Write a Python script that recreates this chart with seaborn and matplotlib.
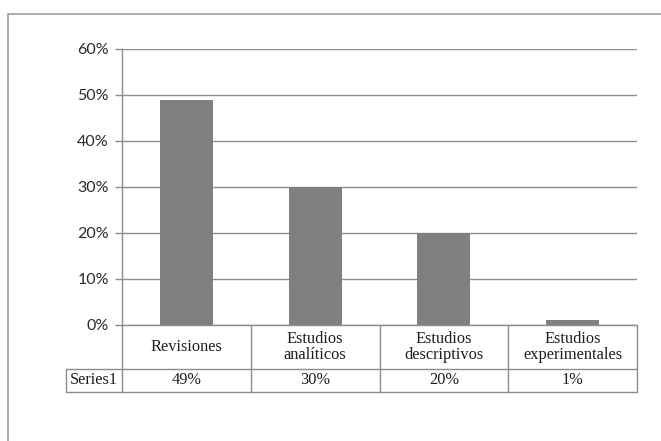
import matplotlib
matplotlib.use("Agg")
import matplotlib.pyplot as plt
import seaborn as sns
import pandas as pd
from matplotlib.lines import Line2D
from matplotlib.ticker import PercentFormatter

categories = ["Revisiones", "Estudios\nanalíticos", "Estudios\ndescriptivos", "Estudios\nexperimentales"]
values = [49, 30, 20, 1]
series_name = "Series1"
y_ticks = [0, 10, 20, 30, 40, 50, 60]

sns.set_theme(style="white")
plt.rcParams["font.family"] = ["Lato", "DejaVu Sans"]

df = pd.DataFrame({"cat": categories, "val": values})

fig = plt.figure(figsize=(6.61, 4.41), dpi=100)
ax = fig.add_axes([122 / 661, 1 - 325 / 441, 515 / 661, 276 / 441])

grid_c = "#8c8c8c"
sns.barplot(data=df, x="cat", y="val", color="#808080", width=0.41,
            saturation=1, linewidth=0, ax=ax, zorder=3)

ax.set_xlim(-0.5, len(categories) - 0.5)
ax.set_ylim(0, 60)
ax.set_yticks(y_ticks)
ax.yaxis.set_major_formatter(PercentFormatter(decimals=0))
ax.yaxis.grid(True, color=grid_c, linewidth=1.0, zorder=0)
ax.set_xticks([])
ax.set_xlabel("")
ax.set_ylabel("")
for side in ["top", "right", "bottom"]:
    ax.spines[side].set_visible(False)
ax.spines["left"].set_color(grid_c)
ax.spines["left"].set_linewidth(1.0)
ax.tick_params(axis="y", left=True, length=5, color=grid_c, width=1.0,
               labelsize=11.5, labelcolor="#2a2a2a", pad=4.5)

# data table under the plot area
tr = ax.transAxes
lw = 1.0
row1 = -44 / 276
row2 = -67 / 276
left_hdr = -56 / 515
table_lines = [
    ([0, 1], [0, 0]),
    ([0, 0], [0, row2]),
    ([1, 1], [0, row2]),
    ([left_hdr, 1], [row1, row1]),
    ([left_hdr, 1], [row2, row2]),
    ([left_hdr, left_hdr], [row1, row2]),
]
for i in range(1, len(categories)):
    f = i / len(categories)
    table_lines.append(([f, f], [0, row2]))
for xs, ys in table_lines:
    ax.add_line(Line2D(xs, ys, transform=tr, color=grid_c, lw=lw, clip_on=False, zorder=5))

serif = ["Liberation Serif", "DejaVu Serif"]
tsize = 11.8
xt = ax.get_xaxis_transform()
for i, (c, v) in enumerate(zip(categories, values)):
    ax.text(i, row1 / 2, c, transform=xt, ha="center", va="center",
            fontsize=tsize, family=serif, color="#1e1e1e", linespacing=1.08)
    ax.text(i, (row1 + row2) / 2, f"{v}%", transform=xt, ha="center", va="center",
            fontsize=tsize, family=serif, color="#1e1e1e")
ax.text(left_hdr / 2, (row1 + row2) / 2, series_name, transform=tr, ha="center",
        va="center", fontsize=tsize, family=serif, color="#1e1e1e")

# outer frame
fc = "#a0a0a0"
fig.add_artist(Line2D([7.5 / 661, 7.5 / 661], [0, 1 - 13.5 / 441], transform=fig.transFigure,
                      color=fc, lw=1.2))
fig.add_artist(Line2D([7.5 / 661, 1], [1 - 13.5 / 441, 1 - 13.5 / 441], transform=fig.transFigure,
                      color=fc, lw=1.2))

fig.savefig("out.png", dpi=100)
